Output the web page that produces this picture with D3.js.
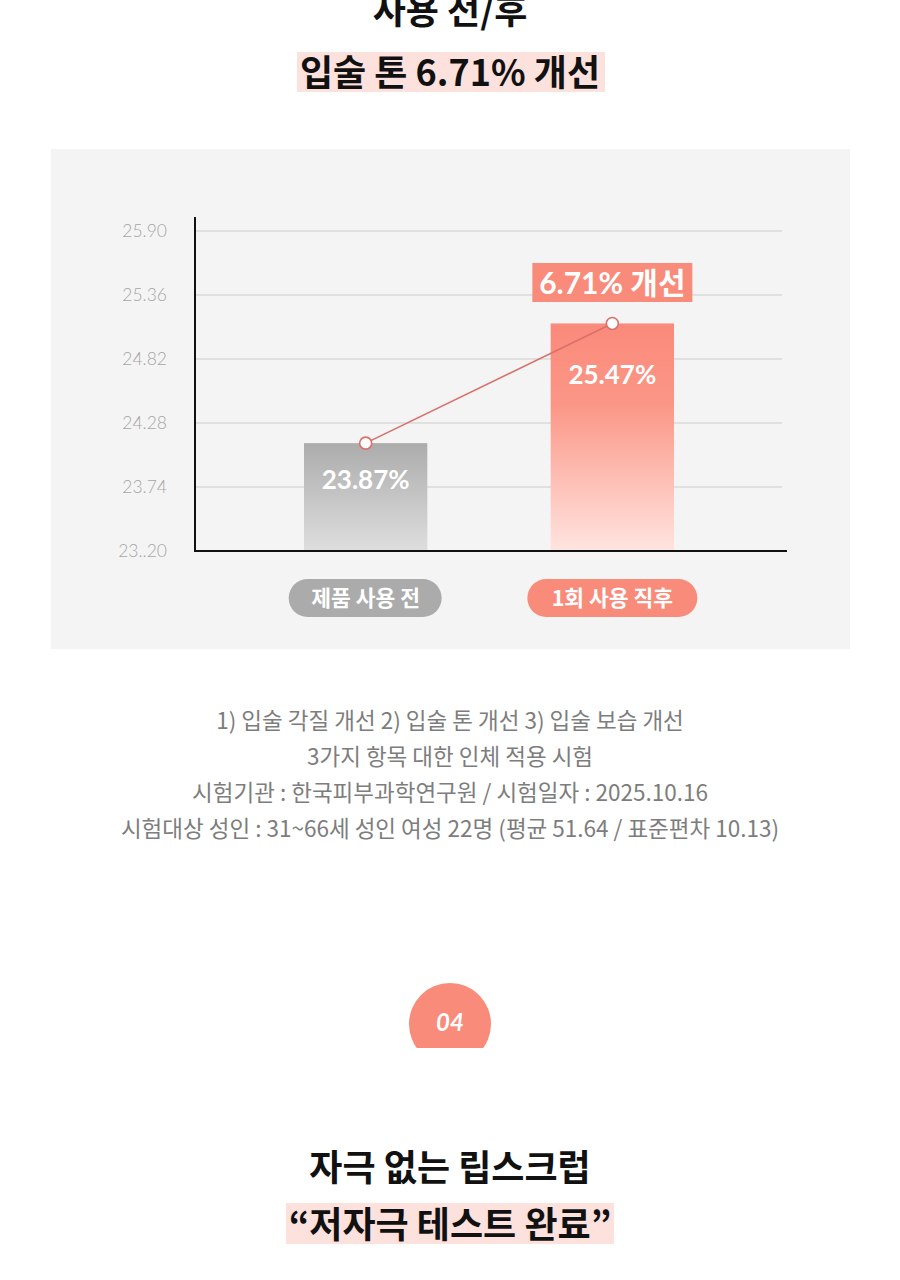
<!DOCTYPE html>
<html>
<head>
<meta charset="utf-8">
<style>
  body { margin: 0; background: #fff; }
  svg { display: block; }
</style>
</head>
<body>
<script src="https://cdn.jsdelivr.net/npm/d3@7"></script>
<script>
// data
var categories = ["제품 사용 전", "1회 사용 직후"];
var valueLabels = ["23.87%", "25.47%"];
// bar tops as drawn in the picture (the artwork is not to scale with its own labels)
var barLevels = [24.11, 25.12];
var tickValues = [23.20, 23.74, 24.28, 24.82, 25.36, 25.90];
var tickLabels = ["23..20", "23.74", "24.28", "24.82", "25.36", "25.90"];
var improvement = "6.71% 개선";
var notes = [
  "1) 입술 각질 개선 2) 입술 톤 개선 3) 입술 보습 개선",
  "3가지 항목 대한 인체 적용 시험",
  "시험기관 : 한국피부과학연구원 / 시험일자 : 2025.10.16",
  "시험대상 성인 : 31~66세 성인 여성 22명 (평균 51.64 / 표준편차 10.13)"
];

var W = 900, H = 1280;
var kr = "'Noto Sans CJK KR', sans-serif";
var num = "Lato, 'Noto Sans CJK KR', sans-serif";
var salmon = "#f98b7b", grey = "#ababab";

var svg = d3.select("body").append("svg")
  .attr("width", W).attr("height", H);

var defs = svg.append("defs");
var g1 = defs.append("linearGradient").attr("id", "gradGrey")
  .attr("x1", 0).attr("y1", 0).attr("x2", 0).attr("y2", 1);
g1.append("stop").attr("offset", "0%").attr("stop-color", "#acacac");
g1.append("stop").attr("offset", "100%").attr("stop-color", "#dedede");
var g2 = defs.append("linearGradient").attr("id", "gradSalmon")
  .attr("x1", 0).attr("y1", 0).attr("x2", 0).attr("y2", 1);
g2.append("stop").attr("offset", "0%").attr("stop-color", "#fa8a7b");
g2.append("stop").attr("offset", "35%").attr("stop-color", "#fb9686");
g2.append("stop").attr("offset", "100%").attr("stop-color", "#ffe4e0");
var fills = ["url(#gradGrey)", "url(#gradSalmon)"];
var pillFills = [grey, salmon];

// headline
svg.append("text")
  .attr("x", W / 2).attr("y", 24)
  .attr("text-anchor", "middle")
  .style("font-family", kr).style("font-weight", 700).style("font-size", "36px")
  .attr("fill", "#111")
  .text("사용 전/후");

svg.append("rect").attr("x", 297).attr("y", 52).attr("width", 308).attr("height", 40)
  .attr("fill", "#fde1dd");
svg.append("text")
  .attr("x", W / 2).attr("y", 86)
  .attr("text-anchor", "middle")
  .style("font-family", kr).style("font-weight", 700).style("font-size", "36px")
  .attr("fill", "#111")
  .text("입술 톤 6.71% 개선");

// chart panel
svg.append("rect").attr("x", 51).attr("y", 149).attr("width", 799).attr("height", 500)
  .attr("fill", "#f4f4f4");

var margin = {left: 195, top: 231, right: 782, bottom: 551};
var yScale = d3.scaleLinear().domain([23.20, 25.90]).range([margin.bottom, margin.top]);
var xScale = d3.scaleBand().domain(categories).range([304, 674]).paddingInner(0.5);

// gridlines
svg.append("g")
  .selectAll("line")
  .data(tickValues.slice(1))
  .enter().append("line")
  .attr("x1", margin.left).attr("x2", margin.right)
  .attr("y1", function(d) { return yScale(d); })
  .attr("y2", function(d) { return yScale(d); })
  .attr("stroke", "#cbcbcb").attr("stroke-width", 1.2);

// y axis labels
var yAxis = d3.axisLeft(yScale)
  .tickValues(tickValues)
  .tickSize(0).tickPadding(28)
  .tickFormat(function(d, i) { return tickLabels[i]; });
var ya = svg.append("g").attr("transform", "translate(" + margin.left + ",0)").call(yAxis);
ya.select(".domain").remove();
ya.selectAll("text")
  .style("font-family", num).style("font-size", "17.5px").style("font-weight", 300)
  .attr("fill", "#a6a6a6");

// bars
var bars = svg.append("g").selectAll("g")
  .data(categories)
  .enter().append("g");
bars.append("rect")
  .attr("x", function(d) { return xScale(d); })
  .attr("width", xScale.bandwidth())
  .attr("y", function(d, i) { return yScale(barLevels[i]); })
  .attr("height", function(d, i) { return margin.bottom - yScale(barLevels[i]); })
  .attr("fill", function(d, i) { return fills[i]; });
bars.append("text")
  .attr("x", function(d) { return xScale(d) + xScale.bandwidth() / 2; })
  .attr("y", function(d, i) { return yScale(barLevels[i]) + (i ? 61 : 46); })
  .attr("text-anchor", "middle")
  .style("font-family", num).style("font-weight", 700).style("font-size", "26px")
  .attr("fill", "#fff")
  .text(function(d, i) { return valueLabels[i]; });

// axes lines
svg.append("line").attr("x1", margin.left).attr("x2", margin.left)
  .attr("y1", 217).attr("y2", margin.bottom + 1)
  .attr("stroke", "#111").attr("stroke-width", 2);
svg.append("line").attr("x1", margin.left - 1).attr("x2", 787)
  .attr("y1", margin.bottom).attr("y2", margin.bottom)
  .attr("stroke", "#111").attr("stroke-width", 2);

// trend line + markers
var pts = categories.map(function(d, i) {
  return [xScale(d) + xScale.bandwidth() / 2, yScale(barLevels[i])];
});
svg.append("path")
  .attr("d", d3.line()(pts))
  .attr("stroke", "#d9706a").attr("stroke-width", 1.6).attr("fill", "none");
svg.append("g").selectAll("circle")
  .data(pts).enter().append("circle")
  .attr("cx", function(d) { return d[0]; })
  .attr("cy", function(d) { return d[1]; })
  .attr("r", 6)
  .attr("fill", "#fff").attr("stroke", "#d9706a").attr("stroke-width", 1.6);

// improvement callout
var cx2 = pts[1][0];
svg.append("rect").attr("x", cx2 - 80).attr("y", 263).attr("width", 160).attr("height", 39)
  .attr("fill", salmon);
svg.append("text")
  .attr("x", cx2).attr("y", 294)
  .attr("text-anchor", "middle")
  .style("font-family", num).style("font-weight", 700).style("font-size", "30px")
  .attr("fill", "#fff")
  .text(improvement);

// category pills
var pills = svg.append("g").selectAll("g")
  .data(categories).enter().append("g");
pills.append("rect")
  .attr("x", function(d, i) { return pts[i][0] - (i ? 85 : 77); })
  .attr("width", function(d, i) { return i ? 170 : 153; })
  .attr("y", 579).attr("height", 38).attr("rx", 19)
  .attr("fill", function(d, i) { return pillFills[i]; });
pills.append("text")
  .attr("x", function(d, i) { return pts[i][0]; })
  .attr("y", 606)
  .attr("text-anchor", "middle")
  .style("font-family", kr).style("font-weight", 700).style("font-size", "21.5px")
  .attr("fill", "#fff")
  .text(function(d) { return d; });

// notes
svg.append("g").selectAll("text")
  .data(notes).enter().append("text")
  .attr("x", W / 2)
  .attr("y", function(d, i) { return 729 + i * 36; })
  .attr("text-anchor", "middle")
  .style("font-family", kr).style("font-size", "22.5px")
  .attr("fill", "#7d7d7d")
  .text(function(d) { return d; });

// section badge (bottom clipped flat)
defs.append("clipPath").attr("id", "badgeClip")
  .append("rect").attr("x", 400).attr("y", 970).attr("width", 100).attr("height", 78);
svg.append("circle").attr("cx", W / 2).attr("cy", 1024).attr("r", 41)
  .attr("fill", salmon).attr("clip-path", "url(#badgeClip)");
svg.append("text")
  .attr("x", W / 2).attr("y", 1031)
  .attr("text-anchor", "middle")
  .style("font-family", num).style("font-weight", 700).style("font-style", "italic")
  .style("font-size", "24px")
  .attr("fill", "#fff")
  .text("04");

svg.append("text")
  .attr("x", W / 2).attr("y", 1181)
  .attr("text-anchor", "middle")
  .style("font-family", kr).style("font-weight", 700).style("font-size", "36px")
  .attr("fill", "#111")
  .text("자극 없는 립스크럽");

svg.append("rect").attr("x", 286).attr("y", 1203).attr("width", 328).attr("height", 41)
  .attr("fill", "#fde1dd");
svg.append("text")
  .attr("x", W / 2).attr("y", 1238)
  .attr("text-anchor", "middle")
  .style("font-family", kr).style("font-weight", 700).style("font-size", "36px")
  .attr("fill", "#111")
  .text("“저자극 테스트 완료”");
</script>
</body>
</html>
